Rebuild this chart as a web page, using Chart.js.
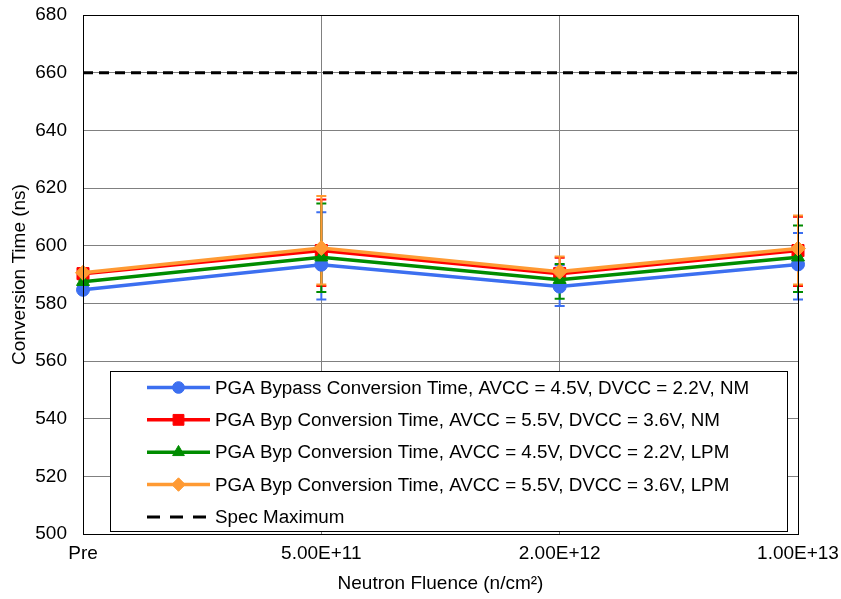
<!DOCTYPE html>
<html>
<head>
<meta charset="utf-8">
<script src="https://cdn.jsdelivr.net/npm/chart.js@4/dist/chart.umd.min.js"></script>
<style>
  html, body { margin: 0; padding: 0; background: #fff; }
  canvas { display: block; }
</style>
</head>
<body>
<canvas id="chart" width="841" height="599"></canvas>
<script>
// Categories (neutron fluence steps)
const fluences = ['Pre', '5.00E+11', '2.00E+12', '1.00E+13'];

// Series labels
const labelBypassNM45 = 'PGA Bypass Conversion Time, AVCC = 4.5V, DVCC = 2.2V, NM';
const labelBypNM55 = 'PGA Byp Conversion Time, AVCC = 5.5V, DVCC = 3.6V, NM';
const labelBypLPM45 = 'PGA Byp Conversion Time, AVCC = 4.5V, DVCC = 2.2V, LPM';
const labelBypLPM55 = 'PGA Byp Conversion Time, AVCC = 5.5V, DVCC = 3.6V, LPM';
const labelSpec = 'Spec Maximum';

// Mean conversion time (ns)
const bypassNM45 = [584.7, 593.4, 585.8, 593.5];
const bypNM55 = [590.3, 598.3, 590.3, 598.3];
const bypLPM45 = [587.5, 596.0, 588.2, 596.0];
const bypLPM55 = [590.6, 599.2, 591.0, 599.0];
const specMax = [660, 660, 660, 660];

// Error bar extents (max / min, ns)
const bypassNM45Hi = [585.5, 611.6, 593.2, 604.4];
const bypassNM45Lo = [583.9, 581.3, 579.1, 581.3];
const bypNM55Hi = [591.1, 616.0, 595.8, 610.0];
const bypNM55Lo = [589.5, 586.0, 585.3, 586.0];
const bypLPM45Hi = [588.3, 614.6, 593.6, 607.0];
const bypLPM45Lo = [586.7, 583.9, 581.6, 583.9];
const bypLPM55Hi = [591.4, 617.2, 596.2, 610.5];
const bypLPM55Lo = [589.8, 586.5, 585.8, 586.5];

// Y axis range
const yMin = 500, yMax = 680, yStep = 20;

const FONT = 'Liberation Sans, Arial, sans-serif';
const FSIZE = 19;
const BLUE = '#3c6ff0', RED = '#ff0000', GREEN = '#008c00', ORANGE = '#ff9a33';

const seriesDefs = [
  { label: labelBypassNM45, data: bypassNM45, hi: bypassNM45Hi, lo: bypassNM45Lo, color: BLUE, style: 'circle', radius: 6.5, order: 4 },
  { label: labelBypNM55, data: bypNM55, hi: bypNM55Hi, lo: bypNM55Lo, color: RED, style: 'rect', radius: 8.5, order: 3 },
  { label: labelBypLPM45, data: bypLPM45, hi: bypLPM45Hi, lo: bypLPM45Lo, color: GREEN, style: 'triangle', radius: 7.5, order: 2 },
  { label: labelBypLPM55, data: bypLPM55, hi: bypLPM55Hi, lo: bypLPM55Lo, color: ORANGE, style: 'rectRot', radius: 7.5, order: 1 },
];

const datasets = seriesDefs.map(s => ({
  label: s.label,
  data: s.data,
  borderColor: s.color,
  backgroundColor: s.color,
  borderWidth: 3.5,
  pointStyle: s.style,
  pointRadius: s.radius,
  pointBorderWidth: 1,
  pointBackgroundColor: s.color,
  pointBorderColor: s.color,
  tension: 0,
  order: s.order,
  errHi: s.hi,
  errLo: s.lo,
}));

datasets.push({
  label: labelSpec,
  data: specMax,
  borderColor: '#000',
  backgroundColor: '#000',
  borderWidth: 3,
  borderDash: [10, 6],
  pointRadius: 0,
  order: 0,
});

// Vertical error bars with caps, drawn under the series lines
const errorBars = {
  id: 'errorBars',
  beforeDatasetsDraw(chart) {
    const { ctx, scales: { x, y } } = chart;
    ctx.save();
    ctx.lineWidth = 2;
    chart.data.datasets.forEach(ds => {
      if (!ds.errHi) return;
      ctx.strokeStyle = ds.borderColor;
      ds.data.forEach((v, i) => {
        const px = x.getPixelForValue(i);
        const top = y.getPixelForValue(ds.errHi[i]);
        const bot = y.getPixelForValue(ds.errLo[i]);
        ctx.beginPath();
        ctx.moveTo(px, top); ctx.lineTo(px, bot);
        ctx.moveTo(px - 5, top); ctx.lineTo(px + 5, top);
        ctx.moveTo(px - 5, bot); ctx.lineTo(px + 5, bot);
        ctx.stroke();
      });
    });
    ctx.restore();
  }
};

// Frame around the plot area plus the boxed legend inside it
const frameAndLegend = {
  id: 'frameAndLegend',
  afterDraw(chart) {
    const { ctx, chartArea: a } = chart;
    ctx.save();
    ctx.strokeStyle = '#000';
    ctx.lineWidth = 1;
    ctx.strokeRect(Math.round(a.left) + 0.5, Math.round(a.top) + 0.5, Math.round(a.right - a.left), Math.round(a.bottom - a.top));

    // legend box
    const bx = 110.5, by = 371.5, bw = 677, bh = 160;
    ctx.fillStyle = '#fff';
    ctx.fillRect(bx, by, bw, bh);
    ctx.strokeRect(bx, by, bw, bh);

    const rowY0 = 387.5, rowGap = 32.35;
    const lineX0 = 147, lineX1 = 210, markX = 178.5, textX = 215;
    ctx.font = '18.8px ' + FONT;
    ctx.textBaseline = 'middle';
    ctx.textAlign = 'left';
    chart.data.datasets.forEach((ds, i) => {
      const ry = rowY0 + i * rowGap;
      ctx.save();
      ctx.strokeStyle = ds.borderColor;
      ctx.lineWidth = ds.borderWidth;
      if (ds.borderDash) ctx.setLineDash([13, 10]);
      ctx.beginPath();
      ctx.moveTo(lineX0, ry); ctx.lineTo(lineX1, ry);
      ctx.stroke();
      ctx.restore();
      if (ds.pointRadius > 0) {
        ctx.fillStyle = ds.pointBackgroundColor;
        ctx.strokeStyle = ds.pointBorderColor;
        ctx.lineWidth = 1;
        Chart.helpers.drawPoint(ctx, { pointStyle: ds.pointStyle, rotation: 0, borderWidth: 1, radius: ds.pointRadius * 0.9 }, markX, ry);
      }
      ctx.fillStyle = '#000';
      ctx.fillText(ds.label, textX, ry + 1);
    });
    ctx.restore();
  }
};

new Chart(document.getElementById('chart'), {
  type: 'line',
  data: { labels: fluences, datasets },
  plugins: [errorBars, frameAndLegend],
  options: {
    responsive: false,
    animation: false,
    events: [],
    layout: { padding: { left: 0, right: 43, top: 15, bottom: 0 } },
    plugins: { legend: { display: false }, tooltip: { enabled: false } },
    scales: {
      x: {
        offset: false,
        grid: { color: '#808080', lineWidth: 1, drawTicks: false },
        border: { color: '#000' },
        ticks: { color: '#000', font: { family: FONT, size: FSIZE }, padding: 8, maxRotation: 0, autoSkip: false },
        title: { display: true, text: 'Neutron Fluence (n/cm²)', color: '#000', font: { family: FONT, size: FSIZE }, padding: { top: 0, bottom: 4 } },
        afterFit(s) { s.height = 65; s.paddingLeft = 0; s.paddingRight = 0; }
      },
      y: {
        min: yMin, max: yMax,
        grid: { color: '#808080', lineWidth: 1, drawTicks: false },
        border: { color: '#000' },
        ticks: { stepSize: yStep, color: '#000', font: { family: FONT, size: FSIZE }, padding: 16 },
        title: { display: true, text: 'Conversion Time (ns)', color: '#000', font: { family: FONT, size: FSIZE }, padding: { top: 8, bottom: 0 } },
        afterFit(s) { s.width = 83; s.paddingTop = 0; s.paddingBottom = 0; }
      }
    }
  }
});
</script>
</body>
</html>
